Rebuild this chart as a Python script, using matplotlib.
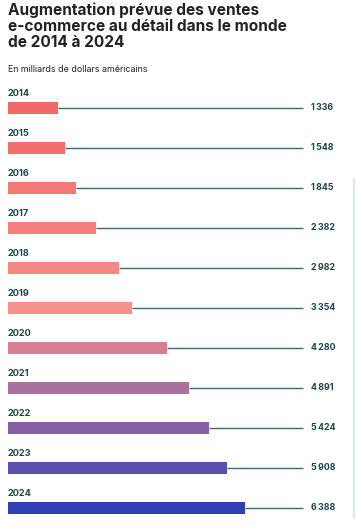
import matplotlib
matplotlib.use("Agg")
import matplotlib.pyplot as plt
import matplotlib.transforms as mtransforms
from matplotlib.lines import Line2D

# Data
years = ["2014", "2015", "2016", "2017", "2018", "2019",
         "2020", "2021", "2022", "2023", "2024"]
sales = [1336, 1548, 1845, 2382, 2982, 3354, 4280, 4891, 5424, 5908, 6388]
labels = ["1\u202f336", "1\u202f548", "1\u202f845", "2\u202f382", "2\u202f982", "3\u202f354",
          "4\u202f280", "4\u202f891", "5\u202f424", "5\u202f908", "6\u202f388"]
colors = ["#f06a6a", "#f26f6f", "#f47876", "#f57f7d", "#f58883", "#f6918b",
          "#d77e92", "#aa6f9c", "#8761a7", "#5b4fae", "#2e40b3"]

W, H = 356, 529
DPI = 100
TEXT_DARK = "#1f4646"
LINE_COL = "#3f6b6b"

fig = plt.figure(figsize=(W / DPI, H / DPI), dpi=DPI)
fig.patch.set_facecolor("white")

# Title and subtitle
fig.text(8 / W, 1 - 2 / H,
         "Augmentation prévue des ventes\ne-commerce au détail dans le monde\nde 2014 à 2024",
         ha="left", va="top", fontsize=11.1, fontweight="bold", family="Inter",
         color="#222222", linespacing=1.12)
fig.text(8 / W, 1 - 69 / H, "En milliards de dollars américains",
         ha="left", va="center", fontsize=6.4, family="Inter", color="#222222")

# Bars axes: x=0 at px 8, 6388 ends at px 245
px_per_unit = (245 - 8) / max(sales)
ax = fig.add_axes([8 / W, 1 - 528 / H, (W - 8) / W, 440 / H])
ax.set_xlim(0, (W - 8) / px_per_unit)
ax.set_ylim(len(years) - 0.5, -0.5)
ax.axis("off")

ypos = list(range(len(years)))
ax.barh(ypos, sales, height=0.28, color=colors, left=0)

line_end = (303 - 8) / px_per_unit
ax.hlines(ypos, sales, line_end, color=LINE_COL, lw=1.0)

trans = mtransforms.blended_transform_factory(ax.transAxes, ax.transData)
for i, (yr, lab) in enumerate(zip(years, labels)):
    ax.text(0, i - 0.36, yr, ha="left", va="center", fontsize=6.6,
            fontweight="bold", family="Inter", color=TEXT_DARK)
    ax.text((311 - 8) / (W - 8), i, lab, transform=trans, ha="left", va="center",
            fontsize=6.4, fontweight="bold", family="Inter", color=TEXT_DARK)

# faint green rule on the right edge
fig.add_artist(Line2D([354 / W, 354 / W], [1 - 179 / H, 1 - 518 / H],
                      transform=fig.transFigure, color="#c9ecd7", lw=1.2))

fig.savefig("out.png", dpi=DPI, facecolor="white")
